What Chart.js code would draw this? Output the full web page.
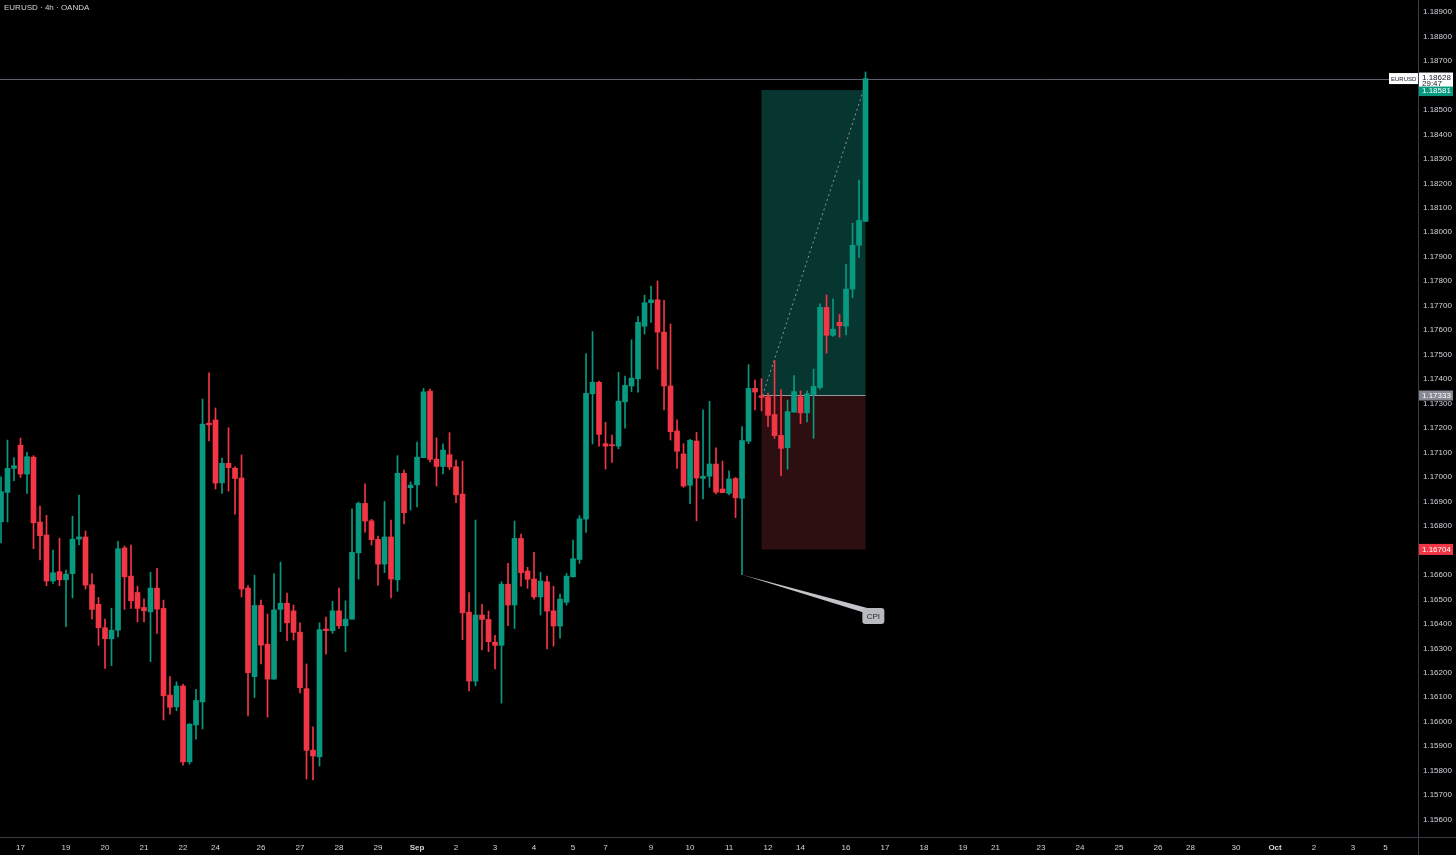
<!DOCTYPE html>
<html>
<head>
<meta charset="utf-8">
<title>EURUSD 4h</title>
<script src="https://cdn.jsdelivr.net/npm/chart.js@4.4.1/dist/chart.umd.min.js"></script>
<style>
  html, body { margin: 0; padding: 0; background: #000; overflow: hidden; }
  #wrap { width: 1456px; height: 855px; position: relative; }
</style>
</head>
<body>
<div id="wrap"><canvas id="chart" width="1456" height="855"></canvas></div>
<script>
// 4h candles (index 0 = first visible bar)
const opens = [
  1.16817,1.16937,1.17035,1.17130,1.17012,1.17081,1.16816,1.16763,1.16575,1.16613,
  1.16580,1.16605,1.16746,1.16755,1.16560,1.16480,1.16384,1.16339,1.16374,1.16710,
  1.16595,1.16528,1.16467,1.16449,1.16546,1.16463,1.16109,1.16061,1.16146,1.15836,
  1.15987,1.16081,1.17220,1.17233,1.16976,1.17056,1.17036,1.16996,1.16546,1.16184,
  1.16475,1.16317,1.16174,1.16459,1.16484,1.16453,1.16366,1.16135,1.15884,1.15857,
  1.16379,1.16372,1.16453,1.16392,1.16419,1.16690,1.16892,1.16821,1.16745,1.16644,
  1.16755,1.16580,1.17015,1.16956,1.16968,1.17079,1.17351,1.17073,1.17043,1.17091,
  1.17042,1.16930,1.16448,1.16166,1.16436,1.16418,1.16325,1.16312,1.16562,1.16477,
  1.16749,1.16616,1.16583,1.16510,1.16572,1.16453,1.16391,1.16488,1.16592,1.16663,
  1.16828,1.17340,1.17387,1.17136,1.17130,1.17126,1.17307,1.17372,1.17401,1.17616,
  1.17712,1.17724,1.17592,1.17372,1.17188,1.17094,1.16966,1.17147,1.16994,1.17003,
  1.17053,1.16951,1.16933,1.16994,1.16913,1.17146,1.17362,1.17332,1.17328,1.17255,
  1.17170,1.17120,1.17265,1.17328,1.17262,1.17337,1.17366,1.17693,1.17579,1.17632,
  1.17616,1.17768,1.17947,1.18044
];
const highs = [
  1.17001,1.17151,1.17079,1.17159,1.17101,1.17087,1.16881,1.16843,1.16701,1.16750,
  1.16620,1.16840,1.16926,1.16779,1.16605,1.16508,1.16419,1.16464,1.16737,1.16718,
  1.16722,1.16554,1.16502,1.16611,1.16627,1.16497,1.16184,1.16163,1.16154,1.15993,
  1.16132,1.17318,1.17426,1.17282,1.17077,1.17201,1.17042,1.17090,1.16556,1.16599,
  1.16497,1.16440,1.16605,1.16652,1.16526,1.16477,1.16404,1.16236,1.15979,1.16404,
  1.16428,1.16492,1.16546,1.16494,1.16870,1.16898,1.16972,1.16827,1.16759,1.16900,
  1.16824,1.17087,1.17028,1.16980,1.17143,1.17362,1.17359,1.17160,1.17136,1.17181,
  1.17069,1.17065,1.16528,1.16824,1.16480,1.16452,1.16353,1.16572,1.16647,1.16820,
  1.16767,1.16631,1.16692,1.16611,1.16595,1.16554,1.16522,1.16606,1.16742,1.16842,
  1.17504,1.17594,1.17392,1.17223,1.17171,1.17428,1.17412,1.17561,1.17655,1.17743,
  1.17780,1.17801,1.17722,1.17625,1.17234,1.17136,1.17154,1.17182,1.17274,1.17309,
  1.17119,1.17065,1.17025,1.16998,1.17206,1.17459,1.17396,1.17402,1.17343,1.17476,
  1.17357,1.17314,1.17414,1.17352,1.17352,1.17441,1.17708,1.17744,1.17728,1.17664,
  1.17869,1.18037,1.18213,1.18655
];
const lows = [
  1.16731,1.16816,1.16985,1.16998,1.16933,1.16707,1.16661,1.16556,1.16565,1.16556,
  1.16388,1.16506,1.16722,1.16542,1.16419,1.16312,1.16218,1.16229,1.16347,1.16459,
  1.16463,1.16408,1.16408,1.16245,1.16361,1.16007,1.16031,1.16045,1.15823,1.15827,
  1.15929,1.15971,1.17147,1.16951,1.16933,1.16942,1.16848,1.16510,1.16024,1.16099,
  1.16236,1.16019,1.16174,1.16368,1.16331,1.16334,1.16118,1.15766,1.15762,1.15819,
  1.16276,1.16361,1.16381,1.16286,1.16419,1.16583,1.16775,1.16722,1.16558,1.16609,
  1.16506,1.16533,1.16808,1.16865,1.16878,1.17079,1.17062,1.16963,1.17013,1.17030,
  1.16895,1.16335,1.16126,1.16147,1.16293,1.16286,1.16216,1.16076,1.16392,1.16381,
  1.16554,1.16545,1.16501,1.16436,1.16297,1.16309,1.16341,1.16477,1.16592,1.16647,
  1.16774,1.17135,1.17126,1.17032,1.17060,1.17115,1.17199,1.17348,1.17347,1.17584,
  1.17632,1.17441,1.17274,1.17151,1.17035,1.16958,1.16891,1.16821,1.16910,1.16958,
  1.16931,1.16936,1.16927,1.16834,1.16601,1.17136,1.17274,1.17270,1.17206,1.17158,
  1.17005,1.17032,1.17265,1.17218,1.17225,1.17158,1.17359,1.17506,1.17574,1.17571,
  1.17580,1.17733,1.17897,1.18044
];
const closes = [
  1.16940,1.17035,1.17046,1.17012,1.17083,1.16813,1.16760,1.16575,1.16609,1.16580,
  1.16603,1.16746,1.16755,1.16558,1.16459,1.16384,1.16339,1.16374,1.16707,1.16592,
  1.16494,1.16463,1.16453,1.16546,1.16460,1.16106,1.16059,1.16146,1.15836,1.15990,
  1.16087,1.17216,1.17213,1.16975,1.17056,1.17038,1.16994,1.16542,1.16200,1.16475,
  1.16313,1.16174,1.16457,1.16484,1.16404,1.16365,1.16139,1.15883,1.15860,1.16377,
  1.16372,1.16453,1.16392,1.16419,1.16692,1.16892,1.16820,1.16744,1.16644,1.16755,
  1.16583,1.17015,1.16854,1.16967,1.17081,1.17348,1.17072,1.17043,1.17110,1.17041,
  1.16927,1.16445,1.16166,1.16436,1.16418,1.16327,1.16312,1.16562,1.16477,1.16749,
  1.16609,1.16582,1.16510,1.16575,1.16452,1.16391,1.16501,1.16595,1.16666,1.16829,
  1.17342,1.17387,1.17174,1.17126,1.17128,1.17310,1.17374,1.17404,1.17632,1.17712,
  1.17724,1.17592,1.17372,1.17185,1.17105,1.16963,1.17150,1.16996,1.17003,1.17053,
  1.16938,1.16936,1.16992,1.16915,1.17149,1.17362,1.17347,1.17325,1.17252,1.17169,
  1.17117,1.17267,1.17349,1.17262,1.17340,1.17370,1.17693,1.17579,1.17604,1.17618,
  1.17768,1.17947,1.18048,1.18628
];

// time axis: bar slot index -> day label
const xTickIdx = [3,10,16,22,28,33,40,46,52,58,64,70,76,82,88,93,100,106,112,118,123,130,136,142,148,153,160,166,172,178,183,190,196,202,208,213];
const xTickText = ['17','19','20','21','22','24','26','27','28','29','Sep','2','3','4','5','7','9','10','11','12','14','16','17','18','19','21','23','24','25','26','28','30','Oct','2','3','5'];
const yTicks = [1.156,1.157,1.158,1.159,1.160,1.161,1.162,1.163,1.164,1.165,1.166,1.167,1.168,1.169,1.170,1.171,1.172,1.173,1.174,1.175,1.176,1.177,1.178,1.179,1.180,1.181,1.182,1.183,1.184,1.185,1.186,1.187,1.188,1.189];

// long position tool + annotations
const entryPrice = 1.17333;
const targetPrice = 1.18581;
const stopPrice = 1.16704;
const posStart = 117, posEnd = 133;
const lastPrice = 1.18628;
const cpiBar = 114;
const cpiLabelAt = { x: 134.2, y: 1.16432 };

const UP = '#089981', DOWN = '#f23645';
const FONT = '"Liberation Sans", Arial, sans-serif';
const barColors = closes.map((c, i) => c >= opens[i] ? UP : DOWN);

const bodies = opens.map((o, i) => ({ x: i, y: [o, closes[i]] }));
const wicks = lows.map((l, i) => ({ x: i, y: [l, highs[i]] }));

function label(ctx, x, y, w, h, bg, fg, text, size = 8, pad = 3) {
  ctx.fillStyle = bg;
  ctx.fillRect(x, y, w, h);
  ctx.fillStyle = fg;
  ctx.font = size + 'px ' + FONT;
  ctx.textAlign = 'left';
  ctx.textBaseline = 'middle';
  ctx.fillText(text, x + pad, y + h / 2 + 0.5);
}

const overlay = {
  id: 'overlay',
  beforeDatasetsDraw(chart) {
    const { ctx, scales: { x, y } } = chart;
    const x0 = x.getPixelForValue(posStart), x1 = x.getPixelForValue(posEnd);
    const yT = y.getPixelForValue(targetPrice), yE = y.getPixelForValue(entryPrice), yS = y.getPixelForValue(stopPrice);
    ctx.save();
    ctx.fillStyle = '#07352f';
    ctx.fillRect(x0, yT, x1 - x0, yE - yT);
    ctx.fillStyle = '#2d0f12';
    ctx.fillRect(x0, yE, x1 - x0, yS - yE);
    ctx.strokeStyle = '#9598a1';
    ctx.lineWidth = 1;
    ctx.beginPath();
    ctx.moveTo(x0, Math.round(yE) + 0.5);
    ctx.lineTo(x1, Math.round(yE) + 0.5);
    ctx.stroke();
    ctx.setLineDash([2, 3]);
    ctx.strokeStyle = '#8f9499';
    ctx.beginPath();
    ctx.moveTo(x0 + 1, yE);
    ctx.lineTo(x1 - 2, yT);
    ctx.stroke();
    ctx.setLineDash([]);
    // current price line
    const yL = Math.round(y.getPixelForValue(lastPrice)) + 0.5;
    ctx.strokeStyle = '#5d606b';
    ctx.beginPath();
    ctx.moveTo(0, yL);
    ctx.lineTo(1389, yL);
    ctx.stroke();
    ctx.restore();
  },
  afterDraw(chart) {
    const { ctx, chartArea: a, scales: { x, y } } = chart;
    ctx.save();
    // axis borders
    ctx.strokeStyle = '#3a3d45';
    ctx.lineWidth = 1;
    ctx.beginPath();
    ctx.moveTo(Math.round(a.right) + 0.5, 0);
    ctx.lineTo(Math.round(a.right) + 0.5, 855);
    ctx.moveTo(0, Math.round(a.bottom) + 0.5);
    ctx.lineTo(1456, Math.round(a.bottom) + 0.5);
    ctx.stroke();

    // CPI callout
    const ax = x.getPixelForValue(cpiBar), ay = y.getPixelForValue(lows[cpiBar]);
    const bx = x.getPixelForValue(cpiLabelAt.x), by = y.getPixelForValue(cpiLabelAt.y);
    ctx.fillStyle = '#c3c5c9';
    ctx.beginPath();
    ctx.moveTo(ax, ay);
    ctx.lineTo(bx - 6, by - 8);
    ctx.lineTo(bx - 8, by - 3);
    ctx.closePath();
    ctx.fill();
    ctx.fillStyle = '#b8babf';
    ctx.beginPath();
    ctx.roundRect(bx - 11, by - 8, 22, 16, 3);
    ctx.fill();
    ctx.fillStyle = '#1e222d';
    ctx.font = '8px ' + FONT;
    ctx.textAlign = 'center';
    ctx.textBaseline = 'middle';
    ctx.fillText('CPI', bx, by + 0.5);

    // title
    ctx.fillStyle = '#d1d4dc';
    ctx.font = '8px ' + FONT;
    ctx.textAlign = 'left';
    ctx.textBaseline = 'middle';
    ctx.fillText('EURUSD · 4h · OANDA', 4, 8);

    // price scale labels
    const ax0 = Math.round(a.right) + 1;
    const yTg = y.getPixelForValue(targetPrice);
    label(ctx, ax0, yTg - 6, 34, 12, UP, '#ffffff', targetPrice.toFixed(5));
    const yL = y.getPixelForValue(lastPrice);
    label(ctx, ax0 - 30, yL - 5.5, 29, 11, '#ffffff', '#131722', 'EURUSD', 6, 2);
    ctx.fillStyle = '#ffffff';
    ctx.fillRect(ax0, yL - 6, 34, 14);
    ctx.fillStyle = '#131722';
    ctx.font = '8px ' + FONT;
    ctx.textAlign = 'left';
    ctx.textBaseline = 'middle';
    ctx.fillText(lastPrice.toFixed(5), ax0 + 3, yL - 1);
    ctx.fillText('29:47', ax0 + 3, yL + 5);
    label(ctx, ax0, y.getPixelForValue(entryPrice) - 5, 34, 10, '#868993', '#ffffff', entryPrice.toFixed(5));
    label(ctx, ax0, y.getPixelForValue(stopPrice) - 5.5, 34, 11, DOWN, '#ffffff', stopPrice.toFixed(5));
    ctx.restore();
  }
};

new Chart(document.getElementById('chart').getContext('2d'), {
  type: 'bar',
  data: {
    datasets: [
      { data: bodies, backgroundColor: barColors, barThickness: 5, grouped: false, borderWidth: 0, minBarLength: 1, order: 0 },
      { data: wicks, backgroundColor: barColors, barThickness: 1, grouped: false, borderWidth: 0, minBarLength: 1, order: 1 }
    ]
  },
  options: {
    responsive: false,
    animation: false,
    events: [],
    layout: { padding: 0 },
    plugins: { legend: { display: false }, tooltip: { enabled: false } },
    scales: {
      x: {
        type: 'linear',
        offset: false,
        min: -0.154,
        max: 217.99,
        grid: { display: false, drawTicks: false },
        border: { display: false },
        afterBuildTicks: s => { s.ticks = xTickIdx.map(v => ({ value: v })); },
        afterFit: s => { s.height = 18; s.paddingLeft = 0; s.paddingRight = 0; },
        ticks: {
          autoSkip: false,
          maxRotation: 0,
          padding: 6,
          color: '#d1d4dc',
          font: c => ({ family: FONT, size: 8, weight: /[A-Za-z]/.test(xTickText[xTickIdx.indexOf(c.tick && c.tick.value)] || '') ? 'bold' : 'normal' }),
          callback: v => xTickText[xTickIdx.indexOf(v)] ?? ''
        }
      },
      y: {
        position: 'right',
        min: 1.15529,
        max: 1.18949,
        grid: { display: false, drawTicks: false },
        border: { display: false },
        afterBuildTicks: s => { s.ticks = yTicks.map(v => ({ value: v })); },
        afterFit: s => { s.width = 38; s.paddingTop = 0; s.paddingBottom = 0; },
        ticks: {
          padding: 5,
          color: '#d1d4dc',
          font: { family: FONT, size: 8 },
          callback: v => v.toFixed(5)
        }
      }
    }
  },
  plugins: [overlay]
});
</script>
</body>
</html>
